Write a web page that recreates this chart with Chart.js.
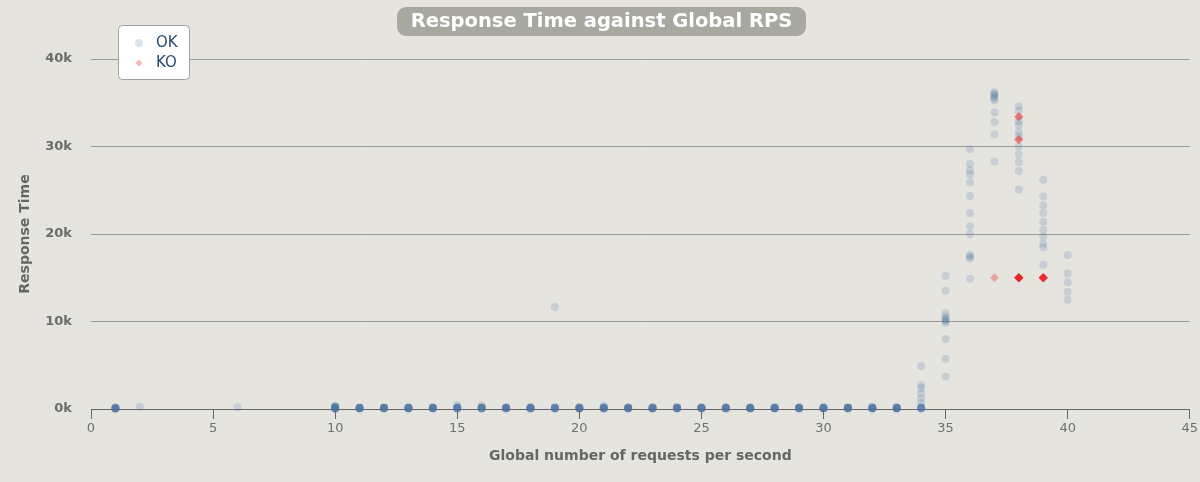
<!DOCTYPE html>
<html>
<head>
<meta charset="utf-8">
<script src="https://cdn.jsdelivr.net/npm/chart.js@4.4.1/dist/chart.umd.min.js"></script>
<style>
  html, body { margin: 0; padding: 0; background: #e6e4df; }
  #wrap { width: 1200px; height: 482px; }
</style>
</head>
<body>
<div id="wrap"><canvas id="rps" width="1200" height="482"></canvas></div>
<script>
// response time (ms) of each request, grouped by the global rps at that moment
const okRps = [1, 2, 6, 10, 11, 12, 13, 14, 15, 16, 17, 18, 19, 20, 21, 22, 23, 24,
  25, 26, 27, 28, 29, 30, 31, 32, 33, 34, 35, 36, 37, 38, 39, 40];
const okTimes = [
  [40, 60, 70, 80, 90, 100, 110, 130, 150, 170],
  [250],
  [190],
  [20, 40, 60, 80, 100, 120, 140, 160, 190, 220, 260, 300, 350],
  [50, 70, 80, 90, 100, 110, 120, 140, 160, 180],
  [50, 60, 80, 90, 100, 120, 130, 150, 170, 190],
  [40, 60, 80, 90, 110, 120, 140, 150, 170, 200],
  [50, 70, 80, 100, 110, 120, 130, 150, 180, 200],
  [50, 70, 90, 100, 110, 130, 150, 170, 200, 460],
  [40, 60, 80, 100, 110, 120, 140, 160, 190, 400],
  [50, 70, 80, 90, 100, 120, 140, 150, 170, 190],
  [40, 60, 80, 100, 110, 130, 140, 160, 180, 200],
  [50, 70, 80, 100, 110, 120, 140, 160, 190, 11650],
  [50, 60, 80, 90, 100, 120, 130, 150, 170, 190],
  [40, 70, 80, 100, 110, 130, 150, 170, 190, 380],
  [50, 60, 80, 90, 110, 120, 140, 150, 170, 200],
  [40, 60, 80, 100, 110, 120, 130, 150, 180, 200],
  [50, 70, 80, 90, 100, 120, 140, 160, 180, 190],
  [50, 60, 80, 100, 110, 130, 140, 160, 170, 200],
  [40, 70, 90, 100, 110, 120, 140, 150, 180, 220],
  [50, 60, 80, 90, 100, 120, 130, 150, 170, 190],
  [40, 60, 80, 100, 110, 130, 150, 160, 180, 200],
  [50, 70, 80, 90, 110, 120, 140, 150, 170, 210],
  [40, 60, 80, 100, 110, 120, 130, 160, 180, 200],
  [50, 70, 90, 100, 110, 120, 140, 150, 170, 190],
  [50, 60, 80, 90, 100, 130, 140, 160, 180, 220],
  [40, 60, 80, 100, 110, 120, 150, 160, 180, 200],
  [50, 70, 90, 110, 130, 160, 200, 700, 1200, 1800, 2400, 2750, 4900],
  [3700, 5750, 8000, 9870, 10050, 10170, 10300, 10550, 10940, 13520, 15240],
  [14900, 17200, 17400, 17600, 20000, 20900, 22400, 24350, 25900, 26800, 27300, 28000, 29680],
  [28300, 31400, 32800, 33900, 35300, 35500, 35700, 35900, 36000, 36200],
  [25100, 27200, 28200, 29100, 30000, 31200, 31700, 32500, 32900, 34100, 34600],
  [16500, 18500, 18900, 19700, 20500, 21400, 22400, 23300, 24300, 26200],
  [12500, 13400, 14500, 15500, 17600]
];
const koRps = [37, 38, 39];
const koTimes = [
  [15000],
  [15000, 15000, 15000, 15000, 15000, 15000, 15000, 30800, 30800, 33400, 33400],
  [15000, 15000, 15000, 15000, 15000, 15000]
];

const okColor = 'rgba(69, 114, 167, 0.2)';
const koColor = 'rgba(235, 20, 28, 0.3)';
const font = '"DejaVu Sans", Verdana, sans-serif';

function toPoints(rps, times) {
  const pts = [];
  rps.forEach((x, i) => times[i].forEach(y => pts.push({ x: x, y: y })));
  return pts;
}

function roundRect(ctx, x, y, w, h, r) {
  ctx.beginPath();
  ctx.moveTo(x + r, y);
  ctx.lineTo(x + w - r, y);
  ctx.arcTo(x + w, y, x + w, y + r, r);
  ctx.lineTo(x + w, y + h - r);
  ctx.arcTo(x + w, y + h, x + w - r, y + h, r);
  ctx.lineTo(x + r, y + h);
  ctx.arcTo(x, y + h, x, y + h - r, r);
  ctx.lineTo(x, y + r);
  ctx.arcTo(x, y, x + r, y, r);
  ctx.closePath();
}

const background = {
  id: 'background',
  beforeDraw(chart) {
    const ctx = chart.ctx;
    ctx.save();
    ctx.fillStyle = '#e6e4df';
    ctx.fillRect(0, 0, chart.width, chart.height);
    ctx.restore();
  }
};

// grey pill title at the top
const titleBadge = {
  id: 'titleBadge',
  afterDraw(chart) {
    const ctx = chart.ctx;
    ctx.save();
    roundRect(ctx, 397, 7, 409, 29, 9);
    ctx.fillStyle = '#a9a8a0';
    ctx.fill();
    ctx.fillStyle = '#ffffff';
    ctx.font = 'bold 19.5px ' + font;
    ctx.textAlign = 'center';
    ctx.textBaseline = 'middle';
    ctx.fillText('Response Time against Global RPS', 601.5, 22);
    ctx.restore();
  }
};

// boxed legend in the top left corner of the plot
const legendBox = {
  id: 'legendBox',
  afterDraw(chart) {
    const ctx = chart.ctx;
    ctx.save();
    roundRect(ctx, 118.5, 25.5, 71, 54, 4);
    ctx.fillStyle = '#ffffff';
    ctx.fill();
    ctx.strokeStyle = '#a0a0a0';
    ctx.lineWidth = 1;
    ctx.stroke();
    chart.data.datasets.forEach((ds, i) => {
      const y = 43 + i * 20;
      ctx.fillStyle = ds.backgroundColor;
      ctx.beginPath();
      if (ds.pointStyle === 'rectRot') {
        ctx.moveTo(139, y - 3.5);
        ctx.lineTo(142.5, y);
        ctx.lineTo(139, y + 3.5);
        ctx.lineTo(135.5, y);
        ctx.closePath();
      } else {
        ctx.arc(139, y, 4, 0, Math.PI * 2);
      }
      ctx.fill();
      ctx.fillStyle = '#274b6d';
      ctx.font = '15px ' + font;
      ctx.textAlign = 'left';
      ctx.textBaseline = 'middle';
      ctx.fillText(ds.label, 156, y);
    });
    ctx.restore();
  }
};

new Chart(document.getElementById('rps'), {
  type: 'scatter',
  data: {
    datasets: [{
      label: 'OK',
      data: toPoints(okRps, okTimes),
      backgroundColor: okColor,
      borderWidth: 0,
      pointStyle: 'circle',
      pointRadius: 4,
      clip: false,
      order: 2
    }, {
      label: 'KO',
      data: toPoints(koRps, koTimes),
      backgroundColor: koColor,
      borderWidth: 0,
      pointStyle: 'rectRot',
      pointRadius: 4.5,
      clip: false,
      order: 1
    }]
  },
  options: {
    responsive: false,
    animation: false,
    layout: { padding: { top: 59, right: 7, bottom: 0, left: 0 } },
    plugins: {
      legend: { display: false },
      title: { display: false },
      tooltip: { enabled: false }
    },
    scales: {
      x: {
        type: 'linear',
        min: 0,
        max: 45,
        ticks: { stepSize: 5, color: '#707070', font: { family: font, size: 13 }, padding: 2, maxRotation: 0 },
        grid: { drawOnChartArea: false, drawTicks: true, tickLength: 10, color: '#666', lineWidth: 1 },
        border: { display: true, color: '#666', width: 1 },
        title: {
          display: true,
          text: 'Global number of requests per second',
          color: '#666',
          font: { family: font, size: 14, weight: 'bold' },
          padding: { top: 0, bottom: 17 }
        },
        afterFit: s => { s.height = 73; }
      },
      y: {
        min: 0,
        max: 40000,
        ticks: {
          stepSize: 10000,
          callback: v => (v / 1000) + 'k',
          color: '#6b6b6b',
          font: { family: font, size: 13, weight: 'bold' },
          padding: 19
        },
        grid: { color: '#9a9a9a', drawTicks: false, lineWidth: 1 },
        border: { display: false },
        title: {
          display: true,
          text: 'Response Time',
          color: '#666',
          font: { family: font, size: 14, weight: 'bold' },
          padding: { top: 17, bottom: 0 }
        },
        afterFit: s => { s.width = 91; }
      }
    }
  },
  plugins: [background, titleBadge, legendBox]
});
</script>
</body>
</html>
